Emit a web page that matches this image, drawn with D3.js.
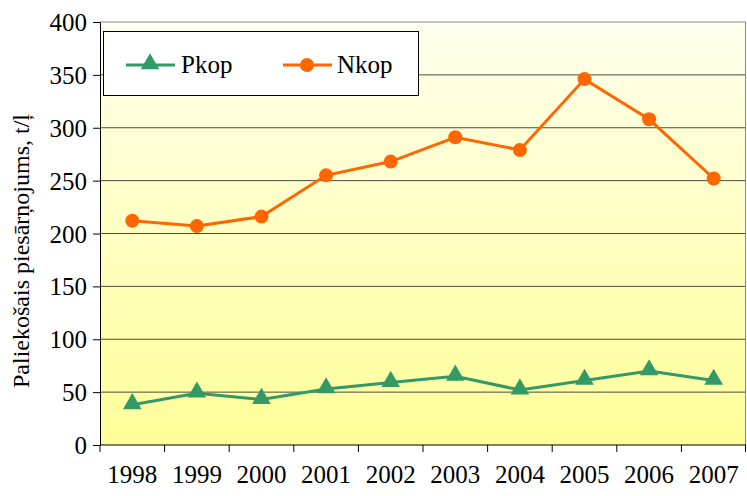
<!DOCTYPE html>
<html>
<head>
<meta charset="utf-8">
<script src="https://cdn.jsdelivr.net/npm/d3@7"></script>
<style>
  body { margin: 0; background: #fff; }
  svg { display: block; }
</style>
</head>
<body>
<div id="chart"></div>
<script>
// data
const years = ["1998", "1999", "2000", "2001", "2002", "2003", "2004", "2005", "2006", "2007"];
const pkop = [38, 49, 43, 53, 59, 65, 52, 61, 70, 61];
const nkop = [212, 207, 216, 255, 268, 291, 279, 346, 308, 252];
const yTicks = [0, 50, 100, 150, 200, 250, 300, 350, 400];

const width = 747;
const height = 496;
const margin = { top: 22, right: 1, bottom: 51, left: 100 };
const fs = "25px";
const ff = '"Liberation Serif"';

const svg = d3.select("#chart").append("svg")
  .attr("width", width)
  .attr("height", height);

const x = d3.scaleBand().domain(years).range([margin.left, width - margin.right]);
const y = d3.scaleLinear().domain([0, 400]).range([height - margin.bottom, margin.top]);

// background gradient
const grad = svg.append("defs").append("linearGradient")
  .attr("id", "bg").attr("x1", 0).attr("y1", 0).attr("x2", 0).attr("y2", 1);
grad.append("stop").attr("offset", "0%").attr("stop-color", "#ffffee");
grad.append("stop").attr("offset", "100%").attr("stop-color", "#ffff99");

svg.append("rect")
  .attr("x", margin.left).attr("y", margin.top)
  .attr("width", width - margin.right - margin.left)
  .attr("height", y(0) - margin.top)
  .attr("fill", "url(#bg)");

// gridlines
svg.append("g")
  .selectAll("line")
  .data(yTicks.filter(d => d > 0 && d < 400))
  .enter().append("line")
  .attr("x1", margin.left).attr("x2", width - margin.right)
  .attr("y1", d => y(d)).attr("y2", d => y(d))
  .attr("stroke", "#4a4a3a").attr("stroke-width", 1);

// top and right frame
svg.append("path")
  .attr("d", `M${margin.left},${y(400)}H${width - margin.right - 0.5}V${y(0)}`)
  .attr("fill", "none").attr("stroke", "#888").attr("stroke-width", 1);

// y axis
const yAxis = d3.axisLeft(y).tickValues(yTicks).tickSize(7).tickPadding(6);
const gy = svg.append("g")
  .attr("transform", `translate(${margin.left},0)`)
  .call(yAxis);
gy.select(".domain").attr("stroke", "#000");
gy.selectAll(".tick line").attr("stroke", "#000");
gy.selectAll("text")
  .style("font-family", ff).style("font-size", fs)
  .attr("fill", "#000").attr("dy", "0.34em");

// x axis - ticks between categories
const gx = svg.append("g")
  .attr("transform", `translate(0,${y(0)})`);
gx.append("line")
  .attr("x1", margin.left).attr("x2", width - margin.right)
  .attr("stroke", "#000");
gx.selectAll(".tk")
  .data(years.concat(["end"]))
  .enter().append("line")
  .attr("x1", (d, i) => i < years.length ? x(d) : x.range()[1] - 0.5)
  .attr("x2", (d, i) => i < years.length ? x(d) : x.range()[1] - 0.5)
  .attr("y1", 0).attr("y2", 7)
  .attr("stroke", "#000");
gx.selectAll("text")
  .data(years)
  .enter().append("text")
  .attr("x", d => x(d) + x.bandwidth() / 2)
  .attr("y", 38)
  .attr("text-anchor", "middle")
  .style("font-family", ff).style("font-size", fs)
  .text(d => d);

// y axis title
svg.append("text")
  .attr("transform", `translate(29,251) rotate(-90)`)
  .attr("text-anchor", "middle")
  .style("font-family", ff).style("font-size", "24px")
  .text("Paliekošais piesārņojums, t/ļ");

const cx = d => x(d) + x.bandwidth() / 2;
const line = vals => d3.line().x((d, i) => cx(years[i])).y(d => y(d))(vals);

const green = "#339966";
const orange = "#ff6600";
const tri = d3.symbol().type(d3.symbolTriangle).size(150);

// Nkop series
svg.append("path").attr("d", line(nkop))
  .attr("fill", "none").attr("stroke", orange).attr("stroke-width", 3);
svg.selectAll(".nk").data(nkop).enter().append("circle")
  .attr("cx", (d, i) => cx(years[i])).attr("cy", d => y(d))
  .attr("r", 7).attr("fill", orange);

// Pkop series
svg.append("path").attr("d", line(pkop))
  .attr("fill", "none").attr("stroke", green).attr("stroke-width", 3);
svg.selectAll(".pk").data(pkop).enter().append("path")
  .attr("d", tri)
  .attr("transform", (d, i) => `translate(${cx(years[i])},${y(d) - 1})`)
  .attr("fill", green);

// legend
const lg = svg.append("g");
lg.append("rect")
  .attr("x", 103.5).attr("y", 31.5).attr("width", 315).attr("height", 64)
  .attr("fill", "#fff").attr("stroke", "#000");
lg.append("line").attr("x1", 126).attr("x2", 175).attr("y1", 65).attr("y2", 65)
  .attr("stroke", green).attr("stroke-width", 3);
lg.append("path").attr("d", tri).attr("transform", "translate(150,64)").attr("fill", green);
lg.append("text").attr("x", 181).attr("y", 73)
  .style("font-family", ff).style("font-size", fs).text("Pkop");
lg.append("line").attr("x1", 283).attr("x2", 332).attr("y1", 65).attr("y2", 65)
  .attr("stroke", orange).attr("stroke-width", 3);
lg.append("circle").attr("cx", 307).attr("cy", 65).attr("r", 7).attr("fill", orange);
lg.append("text").attr("x", 337).attr("y", 73)
  .style("font-family", ff).style("font-size", fs).text("Nkop");
</script>
</body>
</html>
